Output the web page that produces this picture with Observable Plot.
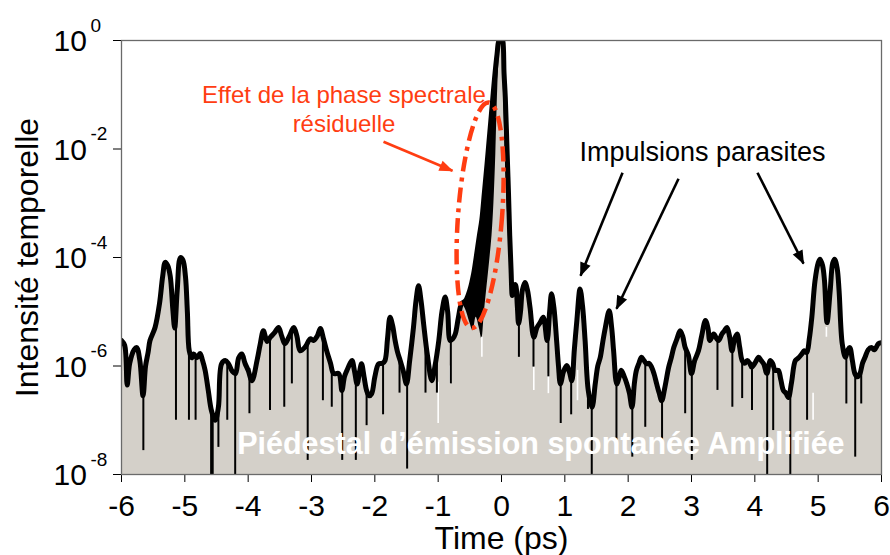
<!DOCTYPE html>
<html>
<head>
<meta charset="utf-8">
<script src="https://cdn.jsdelivr.net/npm/d3@7"></script>
<script src="https://cdn.jsdelivr.net/npm/@observablehq/plot@0.6"></script>
<style>
  html, body { margin: 0; padding: 0; background: white; }
  #chart { width: 890px; height: 555px; }
</style>
</head>
<body>
<div id="chart"></div>
<script>
// ---- Data (time in ps, intensity as log10 exponent) ----
const envT = [-6.00,-5.95,-5.91,-5.87,-5.80,-5.76,-5.71,-5.66,-5.62,-5.58,-5.55,-5.47,-5.40,-5.35,-5.31,-5.27,-5.23,-5.19,-5.16,-5.12,-5.07,-5.03,-4.99,-4.96,-4.93,-4.89,-4.86,-4.81,-4.76,-4.72,-4.68,-4.63,-4.58,-4.52,-4.47,-4.42,-4.36,-4.31,-4.25,-4.20,-4.15,-4.10,-4.05,-4.00,-3.94,-3.86,-3.81,-3.76,-3.70,-3.65,-3.58,-3.52,-3.47,-3.42,-3.35,-3.28,-3.23,-3.18,-3.10,-3.02,-2.97,-2.91,-2.86,-2.81,-2.76,-2.70,-2.65,-2.57,-2.52,-2.48,-2.44,-2.39,-2.36,-2.32,-2.28,-2.24,-2.21,-2.17,-2.13,-2.09,-2.05,-2.00,-1.94,-1.88,-1.84,-1.80,-1.76,-1.72,-1.68,-1.64,-1.60,-1.55,-1.50,-1.45,-1.39,-1.35,-1.31,-1.27,-1.23,-1.17,-1.10,-1.05,-0.99,-0.94,-0.89,-0.85,-0.81,-0.77,-0.73,-0.68,-0.63,-0.57,-0.50,-0.44,-0.40,-0.35,-0.31,-0.27,-0.23,-0.20,-0.17,-0.14,-0.11,-0.07,-0.04,0.00,0.02,0.04,0.06,0.09,0.11,0.13,0.15,0.17,0.19,0.22,0.25,0.27,0.30,0.33,0.37,0.41,0.45,0.51,0.56,0.61,0.66,0.72,0.76,0.79,0.83,0.87,0.90,0.93,0.98,1.03,1.07,1.11,1.15,1.19,1.24,1.28,1.32,1.37,1.43,1.48,1.52,1.56,1.60,1.64,1.70,1.74,1.77,1.82,1.86,1.89,1.94,1.98,2.02,2.06,2.10,2.13,2.17,2.21,2.25,2.29,2.33,2.37,2.41,2.45,2.49,2.53,2.58,2.64,2.68,2.72,2.77,2.82,2.86,2.90,2.95,3.00,3.05,3.11,3.16,3.22,3.26,3.29,3.35,3.40,3.43,3.48,3.52,3.56,3.60,3.64,3.68,3.72,3.76,3.80,3.84,3.88,3.92,3.95,4.00,4.06,4.10,4.14,4.19,4.24,4.28,4.32,4.37,4.41,4.45,4.49,4.53,4.58,4.64,4.69,4.74,4.78,4.82,4.86,4.90,4.95,5.00,5.03,5.07,5.10,5.14,5.19,5.23,5.26,5.30,5.33,5.38,5.43,5.47,5.50,5.54,5.58,5.62,5.66,5.70,5.74,5.79,5.84,5.89,5.95,6.00];
const envL = [-5.53,-5.62,-6.35,-5.95,-5.70,-5.66,-5.90,-6.55,-6.00,-5.75,-5.53,-5.29,-4.85,-4.35,-4.09,-4.15,-4.35,-4.95,-5.30,-4.60,-4.00,-4.05,-4.35,-5.00,-5.72,-5.85,-5.78,-5.85,-5.77,-5.90,-6.08,-6.45,-6.82,-7.00,-6.76,-5.96,-5.90,-5.96,-6.10,-6.14,-5.85,-5.78,-5.95,-6.08,-6.27,-5.90,-5.60,-5.35,-5.55,-5.47,-5.38,-5.29,-5.45,-5.59,-5.45,-5.29,-5.45,-5.72,-5.65,-5.50,-5.53,-5.45,-5.31,-5.50,-5.72,-5.95,-6.14,-6.14,-6.45,-6.20,-6.08,-5.95,-5.90,-6.10,-6.33,-6.10,-5.96,-6.20,-6.45,-6.55,-6.51,-6.20,-5.96,-5.95,-5.90,-5.50,-5.10,-5.25,-5.53,-5.75,-5.90,-6.10,-6.33,-5.90,-5.29,-4.80,-4.52,-4.80,-5.22,-5.80,-6.27,-6.00,-5.53,-5.00,-4.73,-5.00,-5.53,-5.50,-5.41,-5.10,-4.85,-4.80,-4.60,-4.30,-4.00,-3.60,-3.30,-2.80,-2.30,-1.90,-1.50,-1.10,-0.70,-0.25,0.00,0.05,0.00,-0.60,-1.05,-2.10,-2.80,-3.60,-4.20,-4.70,-4.55,-4.50,-4.90,-5.22,-5.00,-4.60,-4.46,-4.60,-4.92,-5.47,-5.29,-5.20,-5.10,-5.53,-5.00,-4.67,-4.95,-5.53,-6.00,-6.33,-6.10,-5.99,-6.10,-6.27,-5.70,-5.16,-4.58,-4.90,-5.53,-6.45,-6.76,-6.33,-6.00,-5.84,-5.55,-5.29,-4.98,-5.30,-5.72,-6.33,-6.20,-6.08,-6.20,-6.33,-6.50,-6.76,-6.30,-6.08,-5.95,-5.84,-5.90,-5.96,-5.95,-6.02,-6.15,-6.33,-6.50,-6.64,-6.39,-6.02,-5.85,-5.66,-5.50,-5.35,-5.45,-5.66,-5.80,-6.14,-5.90,-5.72,-5.45,-5.16,-5.30,-5.53,-5.41,-5.50,-5.53,-5.41,-5.35,-5.29,-5.45,-5.72,-5.50,-5.41,-5.65,-5.90,-5.95,-5.90,-5.95,-6.02,-5.95,-5.84,-5.90,-5.96,-6.14,-5.90,-5.95,-6.08,-6.08,-6.25,-6.45,-6.50,-6.58,-6.30,-5.90,-5.85,-5.78,-5.72,-5.75,-5.50,-5.10,-4.43,-4.10,-4.03,-4.15,-4.43,-5.20,-4.61,-4.10,-4.03,-4.20,-4.61,-5.59,-5.84,-5.70,-5.66,-5.90,-6.14,-6.20,-6.14,-5.95,-5.84,-5.70,-5.66,-5.70,-5.59,-5.57];

// narrow dips of the black trace: time, top (on the trace) and bottom exponents
const dipT   = [-5.655,-5.14,-4.935,-4.83,-4.585,-4.56,-4.47,-4.33,-4.205,-3.98,-3.655,-3.43,-3.31,-3.06,-2.82,-2.68,-2.515,-2.30,-2.13,-1.87,-1.61,-1.49,-1.20,-1.02,-0.80,0.275,0.505,0.74,0.935,1.10,1.365,1.425,1.815,2.065,2.27,2.535,2.90,3.005,3.41,3.645,3.80,3.955,4.195,4.29,4.56,4.825,5.445,5.585,5.68];
const dipTop = [-6.50,-5.10,-5.50,-5.83,-6.80,-6.90,-6.76,-5.95,-6.14,-6.05,-5.48,-5.57,-5.37,-5.57,-5.50,-6.00,-6.40,-6.20,-6.45,-5.95,-5.85,-6.25,-5.50,-5.80,-5.50,-5.15,-5.40,-5.30,-6.30,-6.20,-6.35,-6.70,-6.25,-6.70,-5.93,-6.62,-5.66,-6.10,-5.50,-5.70,-5.90,-6.00,-6.10,-5.97,-6.45,-5.74,-5.82,-6.15,-6.05];
const dipBot = [-7.56,-7.00,-7.00,-7.00,-8.10,-8.10,-7.50,-7.00,-8.10,-6.88,-6.82,-6.76,-6.33,-7.74,-6.64,-6.76,-7.74,-7.74,-7.10,-6.90,-6.50,-7.90,-6.50,-6.50,-6.33,-5.84,-6.02,-6.20,-7.06,-6.90,-6.80,-8.10,-7.37,-7.68,-7.13,-7.37,-6.88,-7.74,-6.45,-6.76,-6.60,-6.82,-8.10,-7.19,-8.10,-7.00,-6.70,-7.68,-6.70];

// thin white streaks inside the grey pedestal
const streakT   = [-1.87,-1.00,-0.81,-0.31,0.51,0.74,1.20,4.92,5.13];
const streakTop = [-6.50,-6.30,-6.00,-5.47,-6.02,-6.14,-6.08,-6.50,-5.29];
const streakBot = [-6.90,-7.06,-6.33,-5.84,-6.45,-6.51,-6.64,-7.00,-5.47];

// grey (compressed pulse) around the main peak
const grayPeakT = [-0.57,-0.50,-0.45,-0.40,-0.35,-0.31,-0.27,-0.23,-0.19,-0.15,-0.12,-0.09,-0.06,-0.03,-0.01,0.01,0.03,0.06,0.08,0.10,0.12,0.14,0.16];
const grayPeakL = [-4.95,-5.20,-5.35,-5.10,-5.30,-5.50,-5.00,-4.55,-4.10,-3.60,-3.00,-2.10,-0.90,-0.20,0.02,0.02,-0.90,-2.10,-2.80,-3.30,-3.80,-4.40,-4.70];

const xTicks = [-6,-5,-4,-3,-2,-1,0,1,2,3,4,5,6];
const yTickExp = [0,-2,-4,-6,-8];

// annotations (anchor positions in data space: t, log10 I)
const redLabels = ["Effet de la phase spectrale", "résiduelle"];
const redLabelT = [-2.487, -2.487];
const redLabelL = [-1.013, -1.554];
const blackLabel = ["Impulsions parasites"];
const blackLabelT = [3.174];
const blackLabelL = [-2.064];
const whiteLabel = ["Piédestal d\u2019émission spontanée Amplifiée"];
const whiteLabelT = [-4.173];
const whiteLabelL = [-7.438];
const redArrow = [{t1:-1.863, L1:-1.867, t2:-0.774, L2:-2.401}];
const blackArrows = [
  {t1:1.911, L1:-2.438, t2:1.248, L2:-4.335},
  {t1:2.795, L1:-2.549, t2:1.816, L2:-4.945},
  {t1:4.042, L1:-2.438, t2:4.769, L2:-4.114}
];
const ellipseCenter = {t:-0.33, L:-3.23};

// ---- Build tables ----
const p = (L) => Math.pow(10, L);
const envelope = envT.map((t,i) => ({t, v: p(envL[i])}));
const dips = dipT.map((t,i) => ({t, top: p(dipTop[i]), bot: p(dipBot[i])}));
const streaks = streakT.map((t,i) => ({t, top: p(streakTop[i]), bot: p(streakBot[i])}));
const grayPeak = grayPeakT.map((t,i) => ({t, v: p(grayPeakL[i])}));
const grayTrace = [...envelope.filter(d => d.t < -0.6 || d.t > 0.17), ...grayPeak].sort((a,b) => a.t - b.t);

const RED = "#ff3d12";
const FONT = "Liberation Sans, Arial, Helvetica, sans-serif";
const CURVE = "catmull-rom";

const chart = Plot.plot({
  width: 890,
  height: 555,
  marginTop: 40,
  marginBottom: 81,
  marginLeft: 121,
  marginRight: 9,
  style: {fontFamily: FONT, fontSize: "30px", color: "black", background: "white", overflow: "visible"},
  x: {domain: [-6, 6], ticks: xTicks, tickSize: 8, tickPadding: 12, tickFormat: d => String(d), label: null},
  y: {type: "log", domain: [1e-8, 1], ticks: yTickExp.map(p), tickSize: 8, tickFormat: () => "", label: null},
  marks: [
    Plot.areaY(envelope, {x: "t", y1: () => 1e-8, y2: "v", fill: "black", curve: CURVE, clip: true}),
    Plot.areaY(grayTrace, {x: "t", y1: () => 1e-8, y2: "v", fill: "#d4d0c9", curve: CURVE, clip: true}),
    Plot.ruleX(streaks, {x: "t", y1: "bot", y2: "top", stroke: "white", strokeWidth: 1.6, clip: true}),
    Plot.ruleX(dips, {x: "t", y1: "bot", y2: "top", stroke: "black", strokeWidth: 2, clip: true}),
    Plot.line(envelope, {x: "t", y: "v", stroke: "black", strokeWidth: 5, strokeLinejoin: "round", curve: CURVE, clip: true}),
    Plot.frame({stroke: "#6a6a6a", strokeWidth: 1.3}),
    // y tick labels 10^n
    Plot.text(yTickExp, {frameAnchor: "left", y: d => p(d), text: () => "10", dx: -68, dy: 1, textAnchor: "start", fontSize: 30, fill: "black"}),
    Plot.text(yTickExp, {frameAnchor: "left", y: d => p(d), text: d => String(d), dx: -31, dy: -15, textAnchor: "start", fontSize: 19, fill: "black"}),
    // axis titles
    Plot.text(["Time (ps)"], {frameAnchor: "bottom", text: d => d, dy: 52, lineAnchor: "top", fontSize: 32, fill: "black"}),
    Plot.text(["Intensité temporelle"], {frameAnchor: "left", text: d => d, rotate: -90, dx: -94, textAnchor: "middle", fontSize: 32, fill: "black"}),
    // annotations
    Plot.text(redLabels, {x: (d,i) => redLabelT[i], y: (d,i) => p(redLabelL[i]), text: d => d, fill: RED, fontSize: 24}),
    Plot.text(blackLabel, {x: (d,i) => blackLabelT[i], y: (d,i) => p(blackLabelL[i]), text: d => d, fill: "black", fontSize: 27}),
    Plot.text(whiteLabel, {x: (d,i) => whiteLabelT[i], y: (d,i) => p(whiteLabelL[i]), text: d => d, fill: "white", fontSize: 30.5, fontWeight: "bold", textAnchor: "start"}),
    Plot.link(redArrow, {x1: "t1", y1: d => p(d.L1), x2: "t2", y2: d => p(d.L2), stroke: RED, strokeWidth: 2.6}),
    Plot.link(blackArrows, {x1: "t1", y1: d => p(d.L1), x2: "t2", y2: d => p(d.L2), stroke: "black", strokeWidth: 2.6})
  ]
});

document.getElementById("chart").appendChild(chart);

// arrow heads + dash-dot ellipse (positioned through the plot's scales)
const svg = d3.select(chart.tagName.toLowerCase() === "svg" ? chart : chart.querySelector("svg"));
const defs = svg.append("defs");
function marker(id, color) {
  defs.append("marker")
    .attr("id", id).attr("markerUnits", "userSpaceOnUse")
    .attr("viewBox", "-16 -8 18 16").attr("markerWidth", 18).attr("markerHeight", 16)
    .attr("refX", 0).attr("refY", 0).attr("orient", "auto")
    .append("path").attr("d", "M1,0L-13,-5.5L-13,5.5Z").attr("fill", color);
}
marker("headRed", RED);
marker("headBlack", "black");
const linkGroups = svg.selectAll('g[aria-label="link"]').nodes();
if (linkGroups[0]) d3.select(linkGroups[0]).selectAll("path").attr("marker-end", "url(#headRed)");
if (linkGroups[1]) d3.select(linkGroups[1]).selectAll("path").attr("marker-end", "url(#headBlack)");

const sx = chart.scale("x"), sy = chart.scale("y");
const cx = sx.apply(ellipseCenter.t), cy = sy.apply(p(ellipseCenter.L));
svg.append("ellipse")
  .attr("cx", 0).attr("cy", 0).attr("rx", 22).attr("ry", 113)
  .attr("transform", `translate(${cx},${cy}) rotate(4.3)`)
  .attr("fill", "none").attr("stroke", RED).attr("stroke-width", 4.5)
  .attr("stroke-dasharray", "15,6,4,6");
</script>
</body>
</html>
